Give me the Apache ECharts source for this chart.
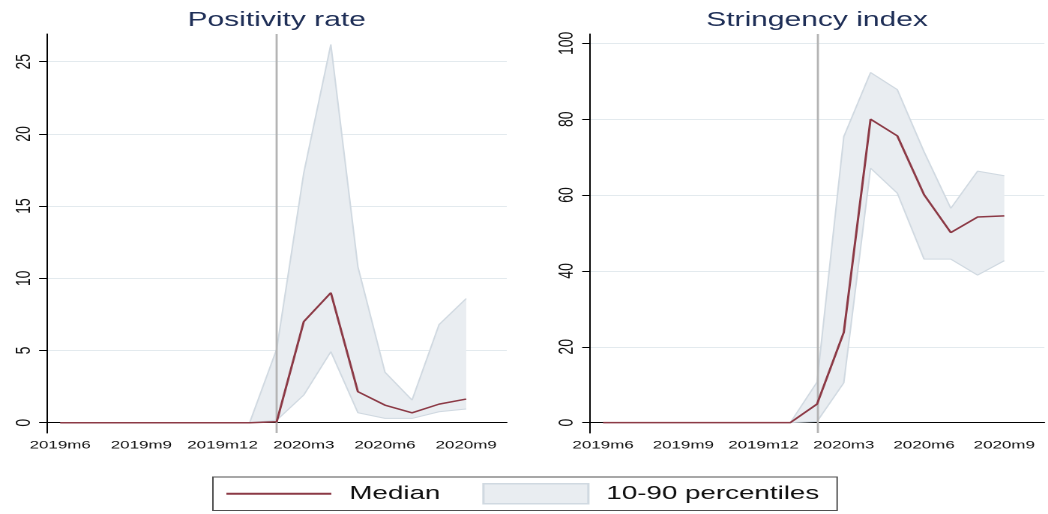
<!DOCTYPE html>
<html>
<head>
<meta charset="utf-8">
<script src="https://cdn.jsdelivr.net/npm/echarts@6/dist/echarts.min.js"></script>
<style>
  html, body { margin: 0; padding: 0; background: #fff; overflow: hidden; }
  #wrap { width: 1048px; height: 514px; overflow: hidden; }
  /* the figure is laid out on a narrower canvas and widened to the page */
  #chart { width: 699px; height: 514px; transform: scaleX(1.4993); transform-origin: 0 0; }
</style>
</head>
<body>
<div id="wrap"><div id="chart"></div></div>
<script>
// Months on the x axis
const months = ['2019m6', '2019m7', '2019m8', '2019m9', '2019m10', '2019m11', '2019m12',
  '2020m1', '2020m2', '2020m3', '2020m4', '2020m5', '2020m6', '2020m7', '2020m8', '2020m9', '2020m10'];
const xTickLabels = ['2019m6', '2019m9', '2019m12', '2020m3', '2020m6', '2020m9'];

// Positivity rate (%)
const posMedian = [0, 0, 0, 0, 0, 0, 0, 0, 0.07, 7.0, 9.0, 2.15, 1.22, 0.69, 1.29, 1.64, null];
const posP10 = [null, null, null, null, null, null, null, 0, 0.18, 1.92, 4.92, 0.69, 0.3, 0.3, 0.76, 0.95, null];
const posP90 = [null, null, null, null, null, null, null, 0, 5.1, 17.3, 26.2, 10.8, 3.5, 1.57, 6.8, 8.6, null];
const posTicks = [0, 5, 10, 15, 20, 25];

// Stringency index
const strMedian = [0, 0, 0, 0, 0, 0, 0, 0, 4.9, 23.8, 80.0, 75.6, 60.1, 50.1, 54.2, 54.5, null];
const strP10 = [null, null, null, null, null, null, null, 0, 0.3, 10.5, 67.1, 60.5, 43.1, 43.1, 38.9, 42.7, null];
const strP90 = [null, null, null, null, null, null, null, 0, 10.7, 75.4, 92.3, 87.8, 71.4, 56.5, 66.3, 65.1, null];
const strTicks = [0, 20, 40, 60, 80, 100];

const FONT = "'Liberation Sans', Arial, Helvetica, sans-serif";
const MEDIAN_COLOR = '#8c3a46';
const BAND_FILL = '#e9edf1';
const BAND_EDGE = '#d0d9e1';
const GRID_COLOR = '#e3eaee';
const TITLE_COLOR = '#1f2f57';
const INK = '#111111';

const panels = [
  { title: 'Positivity rate', left: 31.1, width: 306.9, min: -0.71, max: 26.92,
    ticks: posTicks, median: posMedian, p10: posP10, p90: posP90 },
  { title: 'Stringency index', left: 393.3, width: 303.3, min: -2.73, max: 102.46,
    ticks: strTicks, median: strMedian, p10: strP10, p90: strP90 }
];

const grids = [], xAxes = [], yAxes = [], series = [], titles = [];

panels.forEach((p, i) => {
  grids.push({ left: p.left, width: p.width, top: 34, height: 399 });

  xAxes.push({
    type: 'category', gridIndex: i, data: months, boundaryGap: true,
    axisLine: { lineStyle: { color: '#000', width: 1 } },
    axisTick: { alignWithLabel: true, interval: 0, length: 5, lineStyle: { color: '#000' } },
    axisLabel: {
      interval: (idx, v) => xTickLabels.includes(v),
      fontSize: 11.3, color: INK, margin: 7, fontFamily: FONT
    },
    splitLine: { show: false }
  });

  yAxes.push({
    type: 'value', gridIndex: i, min: p.min, max: p.max,
    axisLine: { show: true, lineStyle: { color: '#000', width: 1 } },
    axisTick: { show: true, customValues: p.ticks, length: 5, lineStyle: { color: '#000' } },
    axisLabel: { customValues: p.ticks, rotate: 90, fontSize: 14, margin: 8, color: INK, fontFamily: FONT },
    splitLine: { show: true, lineStyle: { color: GRID_COLOR, width: 1 } }
  });

  // 10-90 band: lower edge plus stacked width
  const width = p.p90.map((v, k) => (v == null || p.p10[k] == null) ? null : +(v - p.p10[k]).toFixed(3));
  series.push({
    type: 'line', name: 'p10', xAxisIndex: i, yAxisIndex: i, stack: 'band' + i,
    data: p.p10, symbol: 'none', silent: true, z: 2,
    lineStyle: { color: BAND_EDGE, width: 1 },
    markLine: {
      silent: true, symbol: ['none', 'none'], label: { show: false },
      lineStyle: { color: '#b4b4b4', width: 1.4, type: 'solid' },
      emphasis: { disabled: true },
      data: [{ xAxis: '2020m2' }]
    }
  });
  series.push({
    type: 'line', name: '10-90 percentiles', xAxisIndex: i, yAxisIndex: i, stack: 'band' + i,
    data: width, symbol: 'none', silent: true, z: 2,
    lineStyle: { color: BAND_EDGE, width: 1 },
    itemStyle: { color: BAND_FILL },
    areaStyle: { color: BAND_FILL, opacity: 1 }
  });
  series.push({
    type: 'line', name: 'Median', xAxisIndex: i, yAxisIndex: i,
    data: p.median, symbol: 'none', z: 6,
    lineStyle: { color: MEDIAN_COLOR, width: 1.5 },
    itemStyle: { color: MEDIAN_COLOR }
  });

  titles.push({
    type: 'text', x: p.left + p.width / 2, y: 20.5,
    style: { text: p.title, font: "20px " + FONT, fill: TITLE_COLOR,
             textAlign: 'center', textVerticalAlign: 'middle' }
  });
});

const chart = echarts.init(document.getElementById('chart'), null, { renderer: 'canvas', devicePixelRatio: 2 });
chart.setOption({
  animation: false,
  backgroundColor: '#ffffff',
  grid: grids,
  xAxis: xAxes,
  yAxis: yAxes,
  series: series,
  graphic: titles,
  legend: {
    data: [
      { name: 'Median', itemStyle: { opacity: 0 }, lineStyle: { width: 2, color: MEDIAN_COLOR } },
      { name: '10-90 percentiles', icon: 'rect',
        itemStyle: { color: BAND_FILL, borderColor: BAND_EDGE, borderWidth: 1.5 } }
    ],
    left: 142, top: 477, orient: 'horizontal',
    itemWidth: 70, itemHeight: 20, itemGap: 28,
    padding: [6, 12, 6, 8],
    borderColor: '#505050', borderWidth: 1,
    selectedMode: false,
    textStyle: { fontSize: 18.5, color: INK, fontFamily: FONT, padding: [0, 0, 0, 7] }
  }
});
</script>
</body>
</html>
